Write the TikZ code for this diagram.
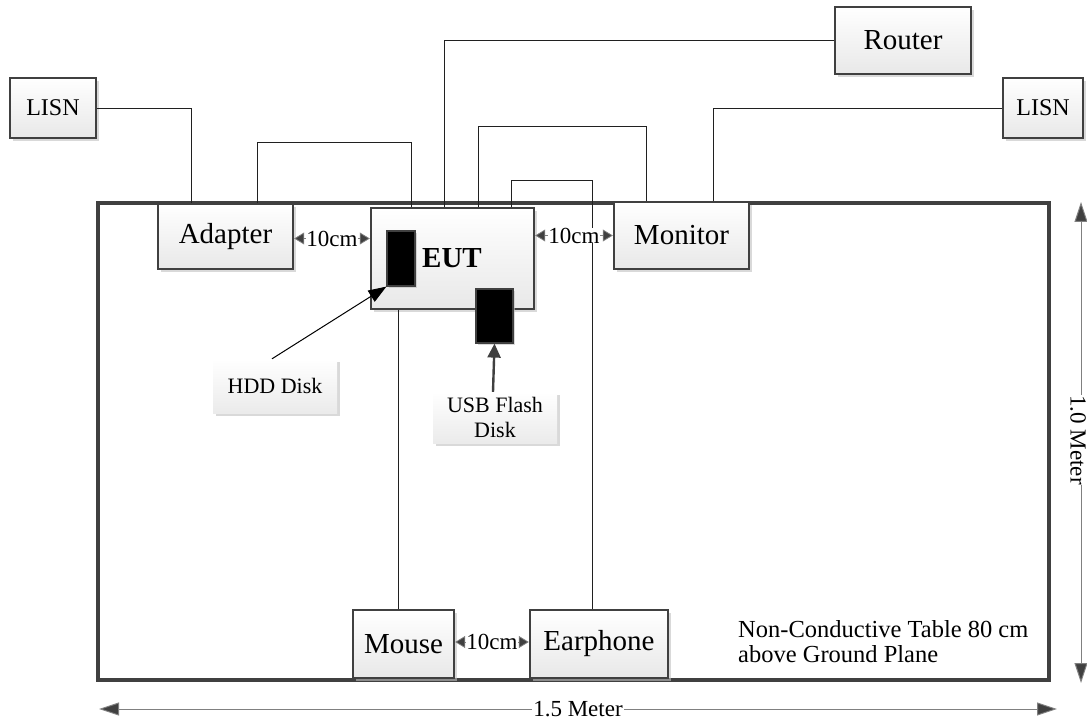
\documentclass[tikz,border=0pt]{standalone}
\usepackage{fontspec}
\setmainfont{Liberation Serif}
\usetikzlibrary{shadows,arrows.meta}
\definecolor{boxline}{HTML}{404040}
\definecolor{dimline}{HTML}{808080}
\definecolor{wirec}{HTML}{202020}
\begin{document}
\begin{tikzpicture}[x=1pt,y=-1pt,
  box/.style={draw=boxline, line width=2.4pt, top color=white, bottom color=black!9,
    drop shadow={shadow xshift=3pt,shadow yshift=-3pt,fill=black!25,opacity=0.6},
    inner sep=0pt, font=\fontsize{29}{32}\selectfont},
  blackbox/.style={draw=boxline, line width=1.2pt, fill=black, inner sep=0pt,
    drop shadow={shadow xshift=2pt,shadow yshift=-2pt,fill=black!25,opacity=0.6}},
  labelbox/.style={top color=white, bottom color=black!8, inner sep=0pt,
    drop shadow={shadow xshift=3pt,shadow yshift=-3pt,fill=black!25,opacity=0.6},
    font=\fontsize{22}{25}\selectfont, align=center},
  wire/.style={draw=wirec, line width=0.9pt},
  dimten/.style={draw=dimline, line width=0.8pt,
    {Triangle[length=10pt,width=12pt,fill=boxline]}-{Triangle[length=10pt,width=12pt,fill=boxline]}},
  tenlab/.style={fill=white, inner sep=0pt, font=\fontsize{23}{25}\selectfont},
  dimbig/.style={draw=dimline, line width=1pt,
    {Triangle[length=20pt,width=13pt,fill=boxline]}-{Triangle[length=20pt,width=13pt,fill=boxline]}},
  biglab/.style={fill=white, inner sep=1pt, font=\fontsize{23}{25}\selectfont}]
\useasboundingbox (0,0) rectangle (1087,722);

% table
\draw[boxline, line width=3.5pt] (98,203) rectangle (1049,680);

% nodes
\node[box, font=\fontsize{24}{28}\selectfont, minimum width=86pt, minimum height=60pt] (lisnL) at (53,108) {LISN};
\node[box, font=\fontsize{24}{28}\selectfont, minimum width=80pt, minimum height=60pt] (lisnR) at (1043,108) {LISN};
\node[box, minimum width=136pt, minimum height=67pt] (router) at (903,40.5) {Router};
\node[box, minimum width=135pt, minimum height=65pt] (adapter) at (225.5,236.5) {Adapter};
\node[box, minimum width=163pt, minimum height=101pt] (eut) at (452.5,258.5) {};
\node[box, minimum width=135pt, minimum height=67pt] (monitor) at (681.5,235.5) {Monitor};
\node[box, minimum width=101pt, minimum height=68pt] (mouse) at (403.5,644) {Mouse};
\node[box, minimum width=138pt, minimum height=68pt] (earphone) at (599,644) {Earphone};

\node[font=\fontsize{29}{32}\selectfont\bfseries] (euttext) at (452,258) {EUT};
\node[blackbox, minimum width=28pt, minimum height=55pt] (hdd) at (401,258.5) {};
\node[blackbox, minimum width=37pt, minimum height=54pt] (usb) at (494.5,316) {};

\node[labelbox, minimum width=124pt, minimum height=54pt] (hddlab) at (275,386) {HDD Disk};
\node[labelbox, minimum width=124pt, minimum height=51pt] (usblab) at (495,417.5) {USB Flash\\Disk};

\node[anchor=north west, inner sep=0pt, align=left, font=\fontsize{24.5}{25}\selectfont] (tabletext) at (738,620) {Non-Conductive Table 80 cm\\above Ground Plane};

% wires
\draw[wire] (lisnL.east) -| ([xshift=35pt]adapter.north west);
\draw[wire] ([xshift=101pt]adapter.north west) -- ++(0,-60) -| ([xshift=42pt]eut.north west);
\draw[wire] ([xshift=75pt]eut.north west) |- (router.west);
\draw[wire] ([xshift=109pt]eut.north west) -- ++(0,-80) -| ([xshift=34pt]monitor.north west);
\draw[wire] ([xshift=142pt]eut.north west) -- ++(0,-26) -| ([xshift=64pt]earphone.north west);
\draw[wire] (lisnR.west) -| ([xshift=101pt]monitor.north west);
\coordinate (mtop) at ([xshift=29pt]eut.south west);
\draw[wire] (mtop) -- (mtop |- mouse.north);

% 10cm spacings
\coordinate (aR) at ([yshift=-2pt]adapter.east);
\draw[dimten] (aR) -- (eut.west |- aR) node[midway, tenlab] {10cm};
\draw[dimten] (eut.east |- monitor.west) -- (monitor.west) node[midway, tenlab] {10cm};
\draw[dimten] ([yshift=2pt]mouse.east) -- ([yshift=2pt]earphone.west) node[midway, tenlab] {10cm};

% disk pointers
\draw[line width=1pt, -{Triangle[length=18pt,width=13pt]}] ([xshift=-3pt]hddlab.north) -- (hdd.south west);
\draw[boxline, line width=2.4pt, -{Triangle[length=14pt,width=13pt]}] ([xshift=-2pt]usblab.north) -- (usb.south);

% dimensions
\coordinate (hl) at (99,709);
\coordinate (hr) at (1057,709);
\draw[dimbig] (hl) -- (hr) node[midway, biglab] {1.5 Meter};
\coordinate (vt) at (1081,202);
\coordinate (vb) at (1081,683);
\draw[dimbig] (vt) -- (vb);
\node[biglab, rotate=-90, inner sep=0pt] (vlab) at (1078,440) {1.0 Meter};
\end{tikzpicture}
\end{document}
